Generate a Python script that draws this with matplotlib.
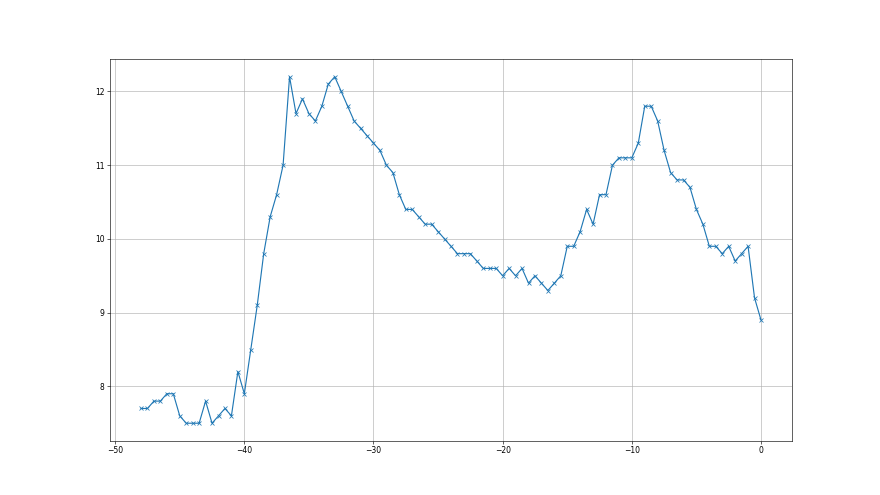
import numpy as np
import matplotlib
matplotlib.use("Agg")
import matplotlib.pyplot as plt

# time offsets, half-step from -48 to 0
x_values = np.arange(-48, 0.5, 0.5)

y_values = [
    7.7, 7.7, 7.8, 7.8, 7.9, 7.9, 7.6, 7.5, 7.5, 7.5,
    7.8, 7.5, 7.6, 7.7, 7.6, 8.2, 7.9, 8.5, 9.1, 9.8,
    10.3, 10.6, 11.0, 12.2, 11.7, 11.9, 11.7, 11.6, 11.8, 12.1,
    12.2, 12.0, 11.8, 11.6, 11.5, 11.4, 11.3, 11.2, 11.0, 10.9,
    10.6, 10.4, 10.4, 10.3, 10.2, 10.2, 10.1, 10.0, 9.9, 9.8,
    9.8, 9.8, 9.7, 9.6, 9.6, 9.6, 9.5, 9.6, 9.5, 9.6,
    9.4, 9.5, 9.4, 9.3, 9.4, 9.5, 9.9, 9.9, 10.1, 10.4,
    10.2, 10.6, 10.6, 11.0, 11.1, 11.1, 11.1, 11.3, 11.8, 11.8,
    11.6, 11.2, 10.9, 10.8, 10.8, 10.7, 10.4, 10.2, 9.9, 9.9,
    9.8, 9.9, 9.7, 9.8, 9.9, 9.2, 8.9,
]

fig = plt.figure(figsize=(16, 9), dpi=55)
ax = fig.add_subplot(111)
ax.plot(x_values, y_values, marker="x")
ax.grid(True)

plt.savefig("out.png", dpi=55)
plt.close()
